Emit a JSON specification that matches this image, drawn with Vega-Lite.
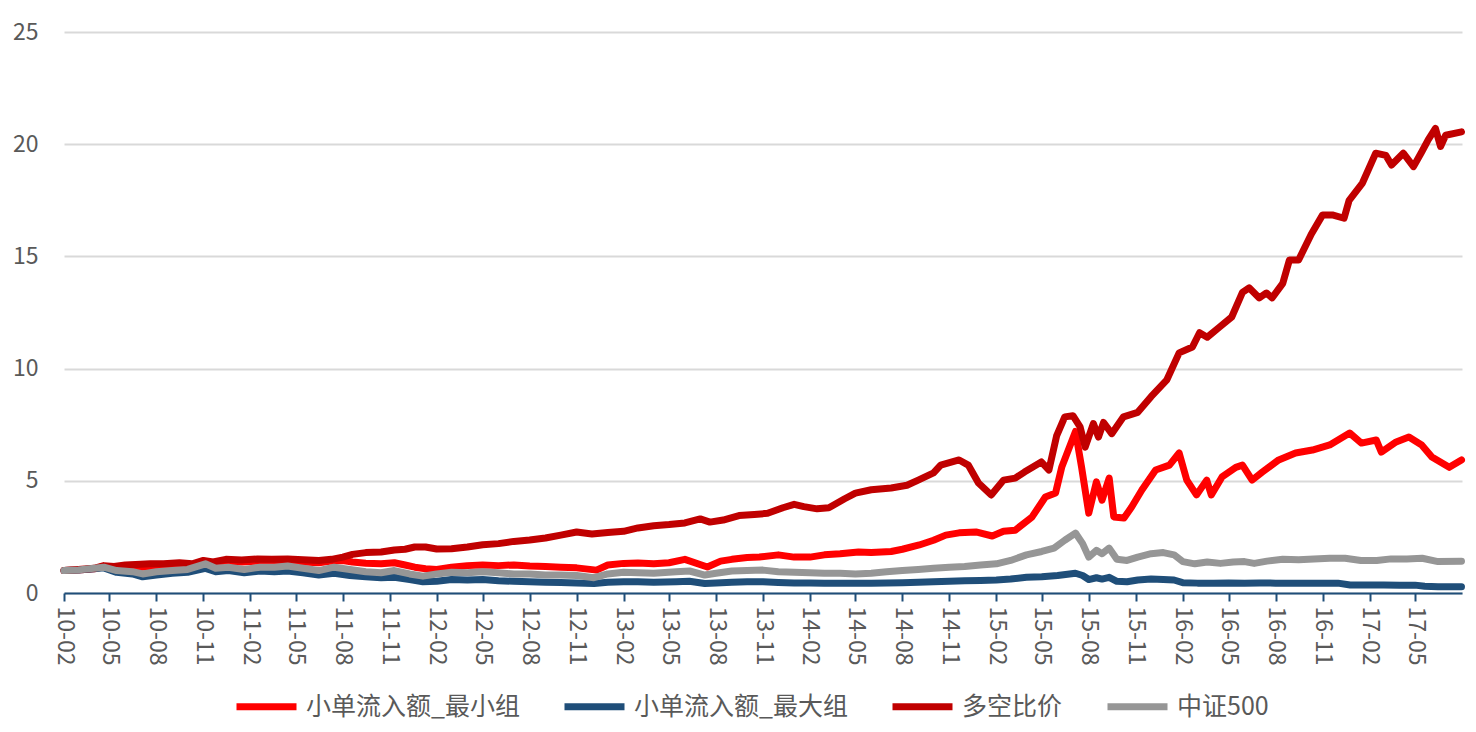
{
"$schema":"https://vega.github.io/schema/vega-lite/v6.json",
"width":1398,"height":561,
"autosize":{"type":"none"},
"padding":{"left":64,"top":32,"right":14,"bottom":139},
"background":"white",
"config":{"view":{"stroke":null},"font":"Noto Sans CJK SC"},
"datasets":{
"r":[{"d":"2010-02-01","v":1.0},{"d":"2010-03-01","v":1.03},{"d":"2010-04-01","v":1.08},{"d":"2010-04-20","v":1.18},{"d":"2010-05-10","v":1.12},{"d":"2010-06-01","v":1.15},{"d":"2010-07-01","v":1.15},{"d":"2010-08-15","v":1.2},{"d":"2010-09-15","v":1.25},{"d":"2010-10-10","v":1.22},{"d":"2010-11-01","v":1.38},{"d":"2010-11-20","v":1.3},{"d":"2010-12-15","v":1.4},{"d":"2011-01-15","v":1.38},{"d":"2011-02-15","v":1.42},{"d":"2011-03-15","v":1.4},{"d":"2011-04-15","v":1.42},{"d":"2011-05-15","v":1.38},{"d":"2011-06-15","v":1.35},{"d":"2011-07-10","v":1.42},{"d":"2011-08-01","v":1.45},{"d":"2011-08-20","v":1.38},{"d":"2011-09-15","v":1.33},{"d":"2011-10-15","v":1.3},{"d":"2011-11-10","v":1.35},{"d":"2011-12-01","v":1.25},{"d":"2011-12-20","v":1.15},{"d":"2012-01-10","v":1.08},{"d":"2012-02-01","v":1.05},{"d":"2012-03-01","v":1.15},{"d":"2012-04-01","v":1.22},{"d":"2012-05-01","v":1.25},{"d":"2012-06-01","v":1.22},{"d":"2012-07-01","v":1.25},{"d":"2012-08-01","v":1.2},{"d":"2012-09-01","v":1.18},{"d":"2012-10-01","v":1.15},{"d":"2012-11-01","v":1.12},{"d":"2012-12-10","v":1.02},{"d":"2013-01-01","v":1.25},{"d":"2013-02-01","v":1.32},{"d":"2013-03-01","v":1.34},{"d":"2013-04-01","v":1.3},{"d":"2013-05-01","v":1.35},{"d":"2013-06-01","v":1.5},{"d":"2013-07-15","v":1.16},{"d":"2013-08-10","v":1.42},{"d":"2013-09-01","v":1.5},{"d":"2013-10-01","v":1.58},{"d":"2013-10-25","v":1.6},{"d":"2013-12-01","v":1.7},{"d":"2014-01-01","v":1.6},{"d":"2014-02-01","v":1.6},{"d":"2014-03-01","v":1.7},{"d":"2014-04-01","v":1.75},{"d":"2014-05-07","v":1.83},{"d":"2014-06-01","v":1.8},{"d":"2014-07-10","v":1.85},{"d":"2014-08-01","v":1.95},{"d":"2014-09-03","v":2.14},{"d":"2014-10-01","v":2.35},{"d":"2014-10-25","v":2.58},{"d":"2014-11-20","v":2.68},{"d":"2014-12-23","v":2.72},{"d":"2015-01-24","v":2.54},{"d":"2015-02-15","v":2.75},{"d":"2015-03-10","v":2.8},{"d":"2015-04-12","v":3.39},{"d":"2015-05-08","v":4.28},{"d":"2015-05-28","v":4.46},{"d":"2015-06-09","v":5.6},{"d":"2015-07-06","v":7.2},{"d":"2015-07-18","v":5.6},{"d":"2015-08-01","v":3.56},{"d":"2015-08-16","v":4.95},{"d":"2015-08-27","v":4.14},{"d":"2015-09-10","v":5.12},{"d":"2015-09-19","v":3.39},{"d":"2015-10-09","v":3.34},{"d":"2015-10-24","v":3.83},{"d":"2015-11-13","v":4.59},{"d":"2015-12-10","v":5.48},{"d":"2016-01-06","v":5.7},{"d":"2016-01-25","v":6.24},{"d":"2016-02-09","v":5.03},{"d":"2016-02-28","v":4.37},{"d":"2016-03-19","v":5.03},{"d":"2016-03-28","v":4.37},{"d":"2016-04-18","v":5.17},{"d":"2016-05-15","v":5.6},{"d":"2016-05-28","v":5.7},{"d":"2016-06-16","v":5.03},{"d":"2016-07-06","v":5.39},{"d":"2016-08-07","v":5.93},{"d":"2016-09-09","v":6.24},{"d":"2016-10-12","v":6.37},{"d":"2016-11-15","v":6.6},{"d":"2016-12-24","v":7.13},{"d":"2017-01-16","v":6.68},{"d":"2017-02-14","v":6.82},{"d":"2017-02-24","v":6.28},{"d":"2017-03-25","v":6.73},{"d":"2017-04-19","v":6.95},{"d":"2017-05-14","v":6.6},{"d":"2017-06-03","v":6.06},{"d":"2017-07-07","v":5.6},{"d":"2017-07-31","v":5.93}],
"b":[{"d":"2010-02-01","v":1.0},{"d":"2010-03-01","v":1.02},{"d":"2010-04-01","v":1.08},{"d":"2010-04-20","v":1.12},{"d":"2010-05-15","v":0.92},{"d":"2010-06-15","v":0.85},{"d":"2010-07-05","v":0.72},{"d":"2010-08-01","v":0.8},{"d":"2010-09-01","v":0.88},{"d":"2010-10-01","v":0.92},{"d":"2010-11-05","v":1.1},{"d":"2010-11-25","v":0.95},{"d":"2010-12-20","v":1.0},{"d":"2011-01-20","v":0.9},{"d":"2011-02-20","v":0.98},{"d":"2011-03-20","v":0.95},{"d":"2011-04-15","v":0.98},{"d":"2011-05-15","v":0.9},{"d":"2011-06-15","v":0.8},{"d":"2011-07-15","v":0.88},{"d":"2011-08-15","v":0.78},{"d":"2011-09-15","v":0.72},{"d":"2011-10-15","v":0.68},{"d":"2011-11-10","v":0.7},{"d":"2011-12-10","v":0.6},{"d":"2012-01-05","v":0.5},{"d":"2012-02-01","v":0.52},{"d":"2012-03-01","v":0.6},{"d":"2012-04-01","v":0.58},{"d":"2012-05-01","v":0.6},{"d":"2012-06-01","v":0.55},{"d":"2012-07-01","v":0.52},{"d":"2012-08-01","v":0.5},{"d":"2012-09-01","v":0.48},{"d":"2012-10-01","v":0.47},{"d":"2012-11-01","v":0.45},{"d":"2012-12-05","v":0.42},{"d":"2013-01-01","v":0.48},{"d":"2013-02-01","v":0.5},{"d":"2013-03-01","v":0.5},{"d":"2013-04-01","v":0.48},{"d":"2013-05-15","v":0.5},{"d":"2013-06-10","v":0.52},{"d":"2013-07-10","v":0.42},{"d":"2013-08-01","v":0.45},{"d":"2013-09-01","v":0.48},{"d":"2013-10-01","v":0.5},{"d":"2013-11-01","v":0.5},{"d":"2013-12-01","v":0.47},{"d":"2014-01-01","v":0.45},{"d":"2014-02-01","v":0.45},{"d":"2014-03-01","v":0.44},{"d":"2014-04-01","v":0.44},{"d":"2014-05-01","v":0.43},{"d":"2014-06-01","v":0.44},{"d":"2014-07-01","v":0.45},{"d":"2014-08-01","v":0.46},{"d":"2014-09-01","v":0.48},{"d":"2014-10-01","v":0.5},{"d":"2014-11-01","v":0.52},{"d":"2014-12-01","v":0.55},{"d":"2015-01-01","v":0.56},{"d":"2015-02-01","v":0.58},{"d":"2015-03-01","v":0.62},{"d":"2015-04-01","v":0.7},{"d":"2015-05-01","v":0.72},{"d":"2015-06-01","v":0.78},{"d":"2015-07-06","v":0.88},{"d":"2015-07-20","v":0.78},{"d":"2015-08-01","v":0.6},{"d":"2015-08-16","v":0.68},{"d":"2015-08-27","v":0.62},{"d":"2015-09-10","v":0.7},{"d":"2015-09-25","v":0.52},{"d":"2015-10-15","v":0.5},{"d":"2015-11-05","v":0.58},{"d":"2015-12-01","v":0.62},{"d":"2015-12-25","v":0.6},{"d":"2016-01-15","v":0.58},{"d":"2016-02-01","v":0.46},{"d":"2016-03-01","v":0.44},{"d":"2016-04-01","v":0.44},{"d":"2016-05-01","v":0.45},{"d":"2016-06-01","v":0.44},{"d":"2016-07-01","v":0.45},{"d":"2016-08-01","v":0.44},{"d":"2016-09-01","v":0.44},{"d":"2016-10-01","v":0.44},{"d":"2016-11-01","v":0.44},{"d":"2016-12-01","v":0.44},{"d":"2016-12-25","v":0.36},{"d":"2017-02-01","v":0.36},{"d":"2017-03-01","v":0.36},{"d":"2017-04-01","v":0.35},{"d":"2017-05-01","v":0.35},{"d":"2017-05-20","v":0.3},{"d":"2017-06-15","v":0.28},{"d":"2017-07-31","v":0.28}],
"dr":[{"d":"2010-02-01","v":1.0},{"d":"2010-03-01","v":1.05},{"d":"2010-04-01","v":1.1},{"d":"2010-04-20","v":1.22},{"d":"2010-05-10","v":1.18},{"d":"2010-06-01","v":1.25},{"d":"2010-07-01","v":1.28},{"d":"2010-07-20","v":1.3},{"d":"2010-08-15","v":1.3},{"d":"2010-09-15","v":1.35},{"d":"2010-10-10","v":1.3},{"d":"2010-11-01","v":1.45},{"d":"2010-11-20","v":1.38},{"d":"2010-12-15","v":1.5},{"d":"2011-01-15","v":1.47},{"d":"2011-02-15","v":1.52},{"d":"2011-03-15","v":1.5},{"d":"2011-04-15","v":1.52},{"d":"2011-05-15","v":1.48},{"d":"2011-06-15","v":1.45},{"d":"2011-07-10","v":1.5},{"d":"2011-08-01","v":1.6},{"d":"2011-08-20","v":1.72},{"d":"2011-09-15","v":1.8},{"d":"2011-10-15","v":1.83},{"d":"2011-11-10","v":1.92},{"d":"2011-12-01","v":1.95},{"d":"2011-12-20","v":2.05},{"d":"2012-01-10","v":2.05},{"d":"2012-02-01","v":1.96},{"d":"2012-03-01","v":1.97},{"d":"2012-04-01","v":2.05},{"d":"2012-05-01","v":2.15},{"d":"2012-06-01","v":2.2},{"d":"2012-07-01","v":2.3},{"d":"2012-08-01","v":2.36},{"d":"2012-09-01","v":2.45},{"d":"2012-10-01","v":2.58},{"d":"2012-11-01","v":2.72},{"d":"2012-12-01","v":2.63},{"d":"2013-01-01","v":2.7},{"d":"2013-02-01","v":2.75},{"d":"2013-03-01","v":2.9},{"d":"2013-04-01","v":3.0},{"d":"2013-05-01","v":3.05},{"d":"2013-06-01","v":3.12},{"d":"2013-07-01","v":3.3},{"d":"2013-07-20","v":3.16},{"d":"2013-08-15","v":3.25},{"d":"2013-09-15","v":3.45},{"d":"2013-10-15","v":3.5},{"d":"2013-11-10","v":3.55},{"d":"2013-12-10","v":3.8},{"d":"2014-01-01","v":3.95},{"d":"2014-01-20","v":3.85},{"d":"2014-02-15","v":3.75},{"d":"2014-03-10","v":3.8},{"d":"2014-04-10","v":4.2},{"d":"2014-05-01","v":4.45},{"d":"2014-06-01","v":4.6},{"d":"2014-07-10","v":4.68},{"d":"2014-08-10","v":4.8},{"d":"2014-09-01","v":5.03},{"d":"2014-10-01","v":5.35},{"d":"2014-10-15","v":5.7},{"d":"2014-11-20","v":5.93},{"d":"2014-12-08","v":5.7},{"d":"2014-12-28","v":4.9},{"d":"2015-01-22","v":4.37},{"d":"2015-02-15","v":5.03},{"d":"2015-03-10","v":5.12},{"d":"2015-03-28","v":5.39},{"d":"2015-04-30","v":5.84},{"d":"2015-05-15","v":5.48},{"d":"2015-05-30","v":7.0},{"d":"2015-06-15","v":7.85},{"d":"2015-07-01","v":7.9},{"d":"2015-07-15","v":7.4},{"d":"2015-07-25","v":6.5},{"d":"2015-08-10","v":7.55},{"d":"2015-08-20","v":6.95},{"d":"2015-08-30","v":7.6},{"d":"2015-09-15","v":7.1},{"d":"2015-10-08","v":7.85},{"d":"2015-11-05","v":8.05},{"d":"2015-12-01","v":8.75},{"d":"2016-01-01","v":9.5},{"d":"2016-01-25","v":10.7},{"d":"2016-02-20","v":10.96},{"d":"2016-03-05","v":11.6},{"d":"2016-03-20","v":11.4},{"d":"2016-04-13","v":11.85},{"d":"2016-05-07","v":12.3},{"d":"2016-05-28","v":13.4},{"d":"2016-06-10","v":13.6},{"d":"2016-06-30","v":13.15},{"d":"2016-07-14","v":13.37},{"d":"2016-07-25","v":13.15},{"d":"2016-08-15","v":13.8},{"d":"2016-08-28","v":14.84},{"d":"2016-09-15","v":14.84},{"d":"2016-10-10","v":16.0},{"d":"2016-11-01","v":16.85},{"d":"2016-11-20","v":16.85},{"d":"2016-12-13","v":16.7},{"d":"2016-12-23","v":17.5},{"d":"2017-01-18","v":18.27},{"d":"2017-02-13","v":19.6},{"d":"2017-03-05","v":19.5},{"d":"2017-03-16","v":19.07},{"d":"2017-04-08","v":19.6},{"d":"2017-04-28","v":19.0},{"d":"2017-05-14","v":19.65},{"d":"2017-05-27","v":20.2},{"d":"2017-06-10","v":20.7},{"d":"2017-06-20","v":19.9},{"d":"2017-06-30","v":20.4},{"d":"2017-07-31","v":20.55}],
"g":[{"d":"2010-02-01","v":1.0},{"d":"2010-03-01","v":1.03},{"d":"2010-04-01","v":1.1},{"d":"2010-04-20","v":1.15},{"d":"2010-05-15","v":1.0},{"d":"2010-06-15","v":0.95},{"d":"2010-07-05","v":0.85},{"d":"2010-08-01","v":0.95},{"d":"2010-09-01","v":1.0},{"d":"2010-10-01","v":1.05},{"d":"2010-11-05","v":1.3},{"d":"2010-11-25","v":1.1},{"d":"2010-12-20","v":1.15},{"d":"2011-01-20","v":1.05},{"d":"2011-02-20","v":1.15},{"d":"2011-03-20","v":1.15},{"d":"2011-04-15","v":1.2},{"d":"2011-05-15","v":1.1},{"d":"2011-06-15","v":1.0},{"d":"2011-07-15","v":1.15},{"d":"2011-08-15","v":1.05},{"d":"2011-09-15","v":0.95},{"d":"2011-10-15","v":0.9},{"d":"2011-11-10","v":1.0},{"d":"2011-12-10","v":0.85},{"d":"2012-01-05","v":0.75},{"d":"2012-02-01","v":0.85},{"d":"2012-03-01","v":0.92},{"d":"2012-04-01","v":0.9},{"d":"2012-05-01","v":0.95},{"d":"2012-06-01","v":0.9},{"d":"2012-07-01","v":0.85},{"d":"2012-08-01","v":0.85},{"d":"2012-09-01","v":0.8},{"d":"2012-10-01","v":0.8},{"d":"2012-11-01","v":0.78},{"d":"2012-12-05","v":0.68},{"d":"2013-01-01","v":0.85},{"d":"2013-02-01","v":0.92},{"d":"2013-03-01","v":0.9},{"d":"2013-04-01","v":0.88},{"d":"2013-05-15","v":0.95},{"d":"2013-06-10","v":0.98},{"d":"2013-07-10","v":0.8},{"d":"2013-08-01","v":0.88},{"d":"2013-09-01","v":0.98},{"d":"2013-10-01","v":1.0},{"d":"2013-11-01","v":1.02},{"d":"2013-12-01","v":0.95},{"d":"2014-01-01","v":0.92},{"d":"2014-02-01","v":0.9},{"d":"2014-03-01","v":0.88},{"d":"2014-04-01","v":0.88},{"d":"2014-05-01","v":0.85},{"d":"2014-06-01","v":0.88},{"d":"2014-07-01","v":0.95},{"d":"2014-08-01","v":1.0},{"d":"2014-09-01","v":1.05},{"d":"2014-10-01","v":1.1},{"d":"2014-11-01","v":1.15},{"d":"2014-12-01","v":1.18},{"d":"2015-01-01","v":1.25},{"d":"2015-02-01","v":1.3},{"d":"2015-03-01","v":1.45},{"d":"2015-04-01","v":1.7},{"d":"2015-05-01","v":1.85},{"d":"2015-05-25","v":2.0},{"d":"2015-06-15","v":2.35},{"d":"2015-07-06","v":2.67},{"d":"2015-07-20","v":2.2},{"d":"2015-08-01","v":1.6},{"d":"2015-08-16","v":1.9},{"d":"2015-08-27","v":1.75},{"d":"2015-09-10","v":2.0},{"d":"2015-09-25","v":1.5},{"d":"2015-10-15","v":1.45},{"d":"2015-11-05","v":1.6},{"d":"2015-12-01","v":1.75},{"d":"2015-12-25","v":1.8},{"d":"2016-01-15","v":1.7},{"d":"2016-02-01","v":1.4},{"d":"2016-02-25","v":1.3},{"d":"2016-03-20","v":1.38},{"d":"2016-04-15","v":1.32},{"d":"2016-05-10","v":1.38},{"d":"2016-06-01","v":1.4},{"d":"2016-06-20","v":1.32},{"d":"2016-07-15","v":1.42},{"d":"2016-08-15","v":1.5},{"d":"2016-09-15","v":1.48},{"d":"2016-10-15","v":1.52},{"d":"2016-11-15","v":1.55},{"d":"2016-12-15","v":1.55},{"d":"2017-01-15","v":1.45},{"d":"2017-02-15","v":1.45},{"d":"2017-03-15","v":1.52},{"d":"2017-04-15","v":1.52},{"d":"2017-05-15","v":1.55},{"d":"2017-06-15","v":1.4},{"d":"2017-07-31","v":1.42}]
},
"encoding":{
"x":{"field":"d","type":"temporal",
 "scale":{"type":"utc","domain":[{"year":2010,"month":2,"date":1,"utc":true},{"year":2017,"month":8,"date":1,"utc":true}]},
 "axis":{"title":null,"grid":false,"labelExpr":"utcFormat(datum.value, '%y-%m')",
  "values":[{"year":2010,"month":2,"date":1,"utc":true},{"year":2010,"month":5,"date":1,"utc":true},{"year":2010,"month":8,"date":1,"utc":true},{"year":2010,"month":11,"date":1,"utc":true},{"year":2011,"month":2,"date":1,"utc":true},{"year":2011,"month":5,"date":1,"utc":true},{"year":2011,"month":8,"date":1,"utc":true},{"year":2011,"month":11,"date":1,"utc":true},{"year":2012,"month":2,"date":1,"utc":true},{"year":2012,"month":5,"date":1,"utc":true},{"year":2012,"month":8,"date":1,"utc":true},{"year":2012,"month":11,"date":1,"utc":true},{"year":2013,"month":2,"date":1,"utc":true},{"year":2013,"month":5,"date":1,"utc":true},{"year":2013,"month":8,"date":1,"utc":true},{"year":2013,"month":11,"date":1,"utc":true},{"year":2014,"month":2,"date":1,"utc":true},{"year":2014,"month":5,"date":1,"utc":true},{"year":2014,"month":8,"date":1,"utc":true},{"year":2014,"month":11,"date":1,"utc":true},{"year":2015,"month":2,"date":1,"utc":true},{"year":2015,"month":5,"date":1,"utc":true},{"year":2015,"month":8,"date":1,"utc":true},{"year":2015,"month":11,"date":1,"utc":true},{"year":2016,"month":2,"date":1,"utc":true},{"year":2016,"month":5,"date":1,"utc":true},{"year":2016,"month":8,"date":1,"utc":true},{"year":2016,"month":11,"date":1,"utc":true},{"year":2017,"month":2,"date":1,"utc":true},{"year":2017,"month":5,"date":1,"utc":true}],
  "domainColor":"#1F4E79","domainWidth":2,"tickColor":"#1F4E79","tickWidth":2,"tickSize":8,
  "labelAngle":90,"labelFontSize":23,"labelColor":"#595959","labelPadding":5,"labelOverlap":false,"labelFlush":false,"labelFont":"Noto Sans CJK SC"}},
"y":{"field":"v","type":"quantitative","scale":{"domain":[0,25],"nice":false},
 "axis":{"title":null,"values":[0,5,10,15,20,25],"domain":false,"ticks":false,"gridColor":"#D9D9D9","gridWidth":2,"labelFontSize":23,"labelColor":"#595959","labelPadding":26,"labelFont":"Noto Sans CJK SC"}}
},
"layer":[
{"data":{"name":"r"},"mark":{"type":"line","strokeWidth":7,"strokeCap":"round","strokeJoin":"round"},
 "encoding":{"color":{"datum":"小单流入额_最小组","type":"nominal",
  "scale":{"domain":["小单流入额_最小组","小单流入额_最大组","多空比价","中证500"],"range":["#FF0000","#1F4E79","#C00000","#969696"]},
  "legend":{"title":null,"orient":"none","legendX":169,"legendY":641,"direction":"horizontal","symbolType":"stroke","symbolStrokeWidth":7,"symbolSize":3600,"labelFontSize":25,"labelColor":"#595959","labelFont":"Noto Sans CJK SC","columnPadding":30,"labelOffset":6,"labelLimit":0}}}},
{"data":{"name":"b"},"mark":{"type":"line","strokeWidth":7,"strokeCap":"round","strokeJoin":"round"},
 "encoding":{"color":{"datum":"小单流入额_最大组","type":"nominal"}}},
{"data":{"name":"dr"},"mark":{"type":"line","strokeWidth":7,"strokeCap":"round","strokeJoin":"round"},
 "encoding":{"color":{"datum":"多空比价","type":"nominal"}}},
{"data":{"name":"g"},"mark":{"type":"line","strokeWidth":7,"strokeCap":"round","strokeJoin":"round"},
 "encoding":{"color":{"datum":"中证500","type":"nominal"}}}
]
}
